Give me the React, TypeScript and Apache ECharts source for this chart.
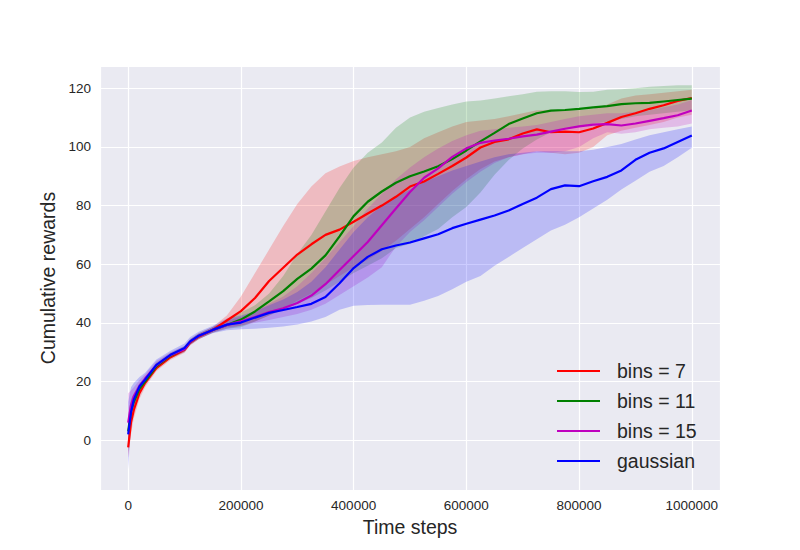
import React, { useEffect, useRef } from "react";
import * as echarts from "echarts";

// x positions (time steps)
const steps = [
  0, 5000, 10000, 20000, 30000, 50000, 75000, 100000, 110000, 125000, 150000, 175000,
  200000, 225000, 250000, 275000, 300000, 325000, 350000, 375000, 400000, 425000,
  450000, 475000, 500000, 525000, 550000, 575000, 600000, 625000, 650000, 675000,
  700000, 725000, 750000, 775000, 800000, 825000, 850000, 875000, 900000, 925000,
  950000, 975000, 1000000,
];

// bins = 7 (red)
const redMean = [
  -2.5, 6, 10.3, 16, 19.5, 24.6, 28.3, 30.8, 33.3, 35.3, 37.6, 40.8,
  44, 48.5, 54.3, 58.8, 63.3, 66.8, 70, 71.8, 74.5, 77.3,
  80, 83, 86.5, 88.2, 90.8, 93.5, 96.4, 99.8, 101.7, 102.6,
  104.6, 106, 105, 105.2, 105, 106.3, 108.2, 110.2, 111.5, 113,
  114.2, 115.7, 116.7,
];
const redLower = [
  -6, 2, 7.5, 14, 18, 23.5, 27.3, 29.8, 32.3, 34.3, 36.7, 38.5,
  39, 40.5, 42.5, 45, 47.5, 50, 53, 56, 59, 61.5,
  64.5, 68, 72, 76, 80.5, 85, 89, 92.5, 95, 96.5,
  97.5, 98.5, 98, 97.5, 98, 100, 104, 105.5, 106.5, 107.5,
  108.5, 110, 111,
];
const redUpper = [
  1, 10, 13, 18, 21, 25.8, 29.3, 31.8, 34.3, 36.3, 38.6, 42.5,
  49, 57, 65, 73, 80.5, 86.5, 91, 93.3, 95.2, 96.5,
  97.5, 98.5, 100, 103, 105, 107, 108.5, 109, 109.5, 110.5,
  111.5, 112.5, 112.7, 112.5, 112.5, 113, 114.5, 116.5, 117.5, 118,
  118.5, 119, 119.5,
];

// bins = 11 (green)
const greenMean = [
  3, 10, 13, 17.5, 20, 25.2, 28.8, 31.1, 33.5, 35.5, 37.6, 39.3,
  41.1, 43.9, 47.3, 50.8, 55, 58.5, 63, 69.5, 76.4, 81.3,
  84.8, 87.8, 90, 91.6, 93.4, 95.9, 98.8, 101.9, 104.8, 107.8,
  109.7, 111.5, 112.4, 112.6, 113, 113.5, 113.9, 114.6, 114.9, 115,
  115.5, 116, 116.5,
];
const greenLower = [
  -4, 6, 11, 16, 19, 24, 27.8, 30.1, 32.5, 34.5, 36.6, 38,
  38.5, 40.5, 42.5, 44.5, 46.5, 48.5, 51, 54, 57, 59.5,
  62, 65.5, 67, 69.5, 72, 76, 79.5, 84.5, 90.5, 95.5,
  99.5, 102.5, 105, 106, 107, 108, 108.5, 109.5, 110.5, 111,
  111.5, 112, 112.5,
];
const greenUpper = [
  8, 14, 16, 19.5, 21.5, 26.5, 29.8, 32.1, 34.5, 36.5, 38.6, 40.8,
  43.5, 46, 50, 56, 63.5, 70, 78, 86, 93, 98,
  101.5, 106.5, 110, 112, 113.3, 114.5, 115.5, 115.8, 116.5, 117.3,
  118, 118.8, 119, 119, 118.7, 118.8, 119.5, 119.7, 120, 120.5,
  120.8, 121, 121,
];

// bins = 15 (magenta)
const magentaMean = [
  6, 12, 15, 18.5, 21, 25.5, 29, 31, 33.5, 35.5, 37.6, 39.3,
  40.5, 42, 43.7, 45, 46.8, 49.3, 53.2, 58, 62.8, 67.6,
  73.3, 79, 84.6, 89.5, 92.7, 96.6, 99.5, 101.4, 102.2, 102.8,
  103.6, 104.2, 105.2, 106.2, 107, 107.6, 107.8, 107.3, 108, 108.9,
  109.8, 110.8, 112.4,
];
const magentaLower = [
  -6, 8, 12.5, 17, 20, 24.5, 28, 30, 32.5, 34.5, 36.6, 38,
  39, 40, 41, 42, 43, 44.5, 46.5, 49.5, 52.5, 55.5,
  59, 66, 71, 75, 79.5, 84, 88, 91.5, 94.5, 96.5,
  97.5, 98, 98, 98.5, 100, 103, 105, 104.5, 105, 106,
  106.5, 107, 108,
];
const magentaUpper = [
  16, 17, 18, 20.5, 22.5, 27, 30, 32.2, 34.5, 36.5, 38.6, 40.7,
  42, 44, 46.5, 49, 52.5, 57, 62, 67.5, 73, 79,
  84, 89, 93, 96.5, 99.5, 102, 104, 105.5, 106, 106.5,
  107, 107.5, 108.5, 109.5, 110.5, 111, 111.5, 111.5, 112, 112.5,
  113.5, 114.5, 116,
];

// gaussian (blue)
const blueMean = [
  2, 9.5, 13.8, 18.3, 20.6, 25.7, 29.1, 31.4, 33.7, 35.6, 37.6, 39.4,
  40.1, 41.8, 43.4, 44.4, 45.4, 46.5, 48.8, 53.5, 58.7, 62.5,
  65.1, 66.4, 67.4, 68.8, 70.2, 72.3, 73.8, 75.2, 76.6, 78.3,
  80.5, 82.7, 85.6, 86.9, 86.6, 88.3, 89.8, 92, 95.6, 98,
  99.5, 101.7, 103.9,
];
const blueLower = [
  -10, 5, 11, 16.5, 19.5, 24.5, 28, 30.3, 32.5, 34.5, 36.5, 37.5,
  37.8, 38, 38.3, 38.8, 39.4, 40.5, 42, 44.5, 45.8, 46.1,
  46.2, 46.2, 46.2, 47.5, 49.2, 51.5, 54, 56, 59.5, 62.5,
  65.5, 68.5, 71.5, 73.5, 76, 79, 82, 85.5, 88.5, 91.5,
  93.5, 96.5, 99.7,
];
const blueUpper = [
  13, 18, 19.5, 21.5, 23, 27.5, 30.5, 33, 35.2, 37, 39, 41.5,
  42.5, 44, 46, 48, 50.5, 54, 59, 65, 71, 76,
  80, 83, 85.5, 88, 90, 92, 93.5, 95, 96.5, 97.5,
  98, 98.5, 98.5, 98.5, 98.5, 99, 100, 101, 102.5, 104,
  105, 106, 107,
];

const seriesNames = ["bins = 7", "bins = 11", "bins = 15", "gaussian"];
const lineColors = ["#ff0000", "#008000", "#bf00bf", "#0000ff"];
const bandColors = [
  "rgba(255,0,0,0.2)",
  "rgba(0,128,0,0.2)",
  "rgba(191,0,191,0.2)",
  "rgba(0,0,255,0.2)",
];

const FONT = "'Liberation Sans', Arial, 'DejaVu Sans', sans-serif";
const TEXT = "#262626";

function band(name: string, lower: number[], upper: number[], fill: string) {
  return {
    type: "custom",
    name: name + " band",
    silent: true,
    clip: true,
    z: 1,
    data: [[steps[0], lower[0]]],
    renderItem: (_params: any, api: any) => {
      const top = steps.map((x, i) => api.coord([x, upper[i]]));
      const bottom = steps.map((x, i) => api.coord([x, lower[i]])).reverse();
      return {
        type: "polygon",
        shape: { points: top.concat(bottom) },
        style: { fill, stroke: null },
      };
    },
  };
}

function line(name: string, mean: number[], color: string) {
  return {
    type: "line",
    name,
    z: 3,
    symbol: "none",
    showSymbol: false,
    data: steps.map((x, i) => [x, mean[i]]),
    lineStyle: { color, width: 2.2 },
    itemStyle: { color },
  };
}

export default function App() {
  const ref = useRef<HTMLDivElement>(null);
  useEffect(() => {
    if (!ref.current) return;
    const chart = echarts.init(ref.current, undefined, { renderer: "svg" });
    const lows = [redLower, greenLower, magentaLower, blueLower];
    const ups = [redUpper, greenUpper, magentaUpper, blueUpper];
    const means = [redMean, greenMean, magentaMean, blueMean];
    chart.setOption({
      animation: false,
      backgroundColor: "#ffffff",
      textStyle: { fontFamily: FONT },
      grid: {
        left: 100,
        right: 80,
        top: 66,
        bottom: 60,
        show: true,
        backgroundColor: "#EAEAF2",
        borderWidth: 0,
      },
      xAxis: {
        type: "value",
        min: -50000,
        max: 1050000,
        splitNumber: 5,
        name: "Time steps",
        nameLocation: "middle",
        nameGap: 25,
        nameTextStyle: { fontSize: 19.5, color: TEXT, fontFamily: FONT },
        axisLine: { show: false },
        axisTick: { show: false },
        axisLabel: {
          showMinLabel: false,
          showMaxLabel: false,
          color: TEXT,
          fontSize: 13.5,
          fontFamily: FONT,
          margin: 8,
          formatter: (v: number) => String(v),
        },
        splitLine: { show: true, lineStyle: { color: "#ffffff", width: 1.2 } },
      },
      yAxis: {
        type: "value",
        min: -17,
        max: 127.6,
        splitNumber: 7,
        name: "Cumulative rewards",
        nameLocation: "middle",
        nameGap: 42,
        nameTextStyle: { fontSize: 19.5, color: TEXT, fontFamily: FONT },
        axisLine: { show: false },
        axisTick: { show: false },
        axisLabel: {
          showMinLabel: false,
          showMaxLabel: false,
          color: TEXT,
          fontSize: 13.5,
          fontFamily: FONT,
          margin: 9,
          formatter: (v: number) => String(v),
        },
        splitLine: { show: true, lineStyle: { color: "#ffffff", width: 1.2 } },
      },
      legend: {
        data: seriesNames,
        orient: "vertical",
        left: 557,
        top: 361,
        padding: 0,
        itemGap: 10,
        itemWidth: 43,
        itemHeight: 20,
        icon: "path://M0,9H43V11H0Z",
        textStyle: { fontSize: 19.5, color: TEXT, fontFamily: FONT, padding: [0, 0, 0, 12] },
      },
      series: [
        ...seriesNames.map((n, k) => band(n, lows[k], ups[k], bandColors[k])),
        ...seriesNames.map((n, k) => line(n, means[k], lineColors[k])),
      ],
    });
    return () => chart.dispose();
  }, []);
  return (
    <div
      ref={ref}
      style={{ position: "fixed", left: 0, top: 0, width: 800, height: 550 }}
    />
  );
}
